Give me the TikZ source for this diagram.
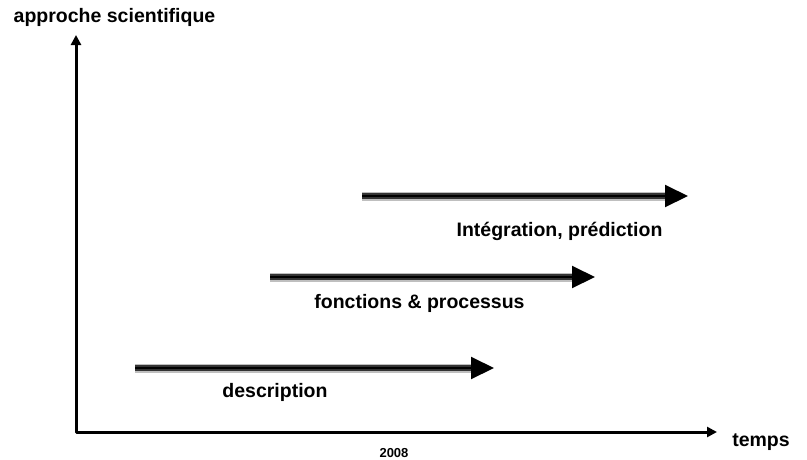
\documentclass[tikz,border=0pt]{standalone}
\usepackage{fontspec}
\setmainfont{Liberation Sans}
\usetikzlibrary{arrows.meta}

\begin{document}
\begin{tikzpicture}[x=1pt, y=-1pt,
  axe/.style={line width=3pt, line join=round},
  lbl/.style={font=\bfseries\fontsize{19.5}{22}\selectfont, inner sep=0pt},
  fleche/.style={line width=2pt, -{Triangle[length=23pt, width=22pt]}}]
\useasboundingbox (0,0) rectangle (807,459);
% axes
\coordinate (O) at (76,432);
\coordinate (ytop) at (76,35);
\coordinate (xend) at (717,432);
\draw[axe, {Triangle[length=10pt, width=10pt]}-{Triangle[length=10pt, width=10pt]}] (ytop) -- (O) -- (xend);
\node[lbl] (ylab) at (114.5,17) {approche scientifique};
\node[lbl] (xlab) at (761,442) {temps};
\node[font=\bfseries\fontsize{13}{15}\selectfont, inner sep=0pt] (an) at (394,453) {2008};
% the three stages, shaft in grey bands with a black core
\foreach \n/\xa/\xb/\y in {desc/135/494/368, fonc/270/595/277, integ/362/688/196} {
  \coordinate (\n-a) at (\xa,\y);
  \coordinate (\n-b) at (\xb,\y);
  \draw[gray!50, line width=9pt, shorten >=22pt] (\n-a) -- (\n-b);
  \draw[gray!40!black, line width=5.5pt, shorten >=22pt] (\n-a) -- (\n-b);
  \draw[fleche] (\n-a) -- (\n-b);
}
\node[lbl] (integ-t) at (559.5,231) {Intégration, prédiction};
\node[lbl] (fonc-t) at (419.5,303) {fonctions \& processus};
\node[lbl] (desc-t) at (275,392) {description};
\end{tikzpicture}
\end{document}
